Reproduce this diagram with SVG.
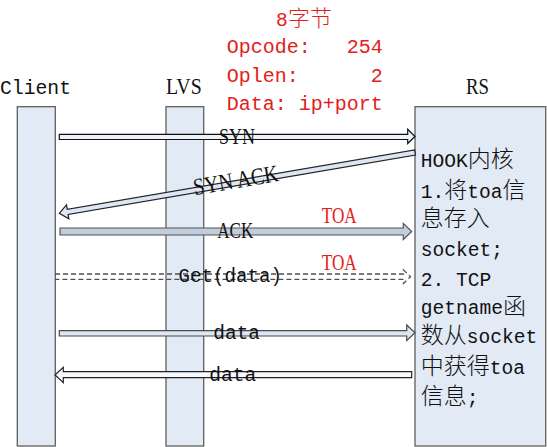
<svg xmlns="http://www.w3.org/2000/svg" width="547" height="447" viewBox="0 0 547 447">
<style>
.bar{fill:#e2eaf6;stroke:#5f5f5f;stroke-width:1.3}
.m{font-family:"Liberation Mono",monospace;font-size:19.6px;fill:#111}
.s{font-family:"Liberation Serif",serif;font-size:24px;fill:#111}
.c{font-family:"Noto Sans CJK SC",sans-serif;font-size:23px;font-weight:300}
.red{fill:#e2201c}
.arr{stroke-width:1.2;stroke-linejoin:miter}
</style>
<rect width="547" height="447" fill="#fff"/>
<g id="client">
<rect class="bar" x="17.3" y="106.7" width="38" height="339.3"/>
<text class="m" x="0" y="94" textLength="71" lengthAdjust="spacingAndGlyphs">Client</text>
</g>
<g id="lvs">
<rect class="bar" x="166" y="106.7" width="37.7" height="339.3"/>
<text class="s" x="166" y="94" textLength="35.7" lengthAdjust="spacingAndGlyphs">LVS</text>
</g>
<g id="rs">
<rect class="bar" x="415" y="106.7" width="130.7" height="339.3"/>
<text class="s" x="466" y="94" textLength="23" lengthAdjust="spacingAndGlyphs">RS</text>
</g>
<g id="toa-option" class="red">
<text class="m red" x="304" y="26" text-anchor="middle">8<tspan class="c red" style="font-size:22px">字节</tspan></text>
<text class="m red" x="226.7" y="53.3" xml:space="preserve" textLength="156" lengthAdjust="spacingAndGlyphs">Opcode:   254</text>
<text class="m red" x="226.7" y="81.7" xml:space="preserve" textLength="156" lengthAdjust="spacingAndGlyphs">Oplen:      2</text>
<text class="m red" x="226.7" y="110" xml:space="preserve" textLength="156" lengthAdjust="spacingAndGlyphs">Data: ip+port</text>
</g>
<g id="connectors">
<path id="syn" class="arr" fill="#eef2f9" stroke="#111" d="M59.3,134.3 H407.7 V129.3 L415,136.5 L407.7,143.5 V139.5 H59.3 Z"/>
<path id="synack" class="arr" fill="#dce6f4" stroke="#222" transform="translate(59.3,213.3) rotate(-9.7)" d="M0,0 L8.5,-7 V-2.6 H360.9 V2.6 H8.5 V7 Z"/>
<path id="ack" class="arr" fill="#c3ccd9" stroke="#4d5560" stroke-width="1.5" d="M60,228 H403.3 V223.3 L411.7,231.5 L403.3,239.5 V235 H60 Z"/>
<path id="get" fill="none" stroke="#4f4f4f" stroke-width="1.3" stroke-dasharray="5,3" d="M55,274 H403.5 V270 L410.5,276.7 L403.5,283.4 V279.4 H55"/>
<path id="data1" class="arr" fill="#dde6f3" stroke="#4a4a4a" d="M59.3,330.7 H406.7 V325 L415,332.8 L406.7,340.7 V336 H59.3 Z"/>
<path id="data2" class="arr" fill="#f6f8fc" stroke="#222" d="M55,375 L63.3,367.3 V371.7 H411.7 V377.7 H63.3 V382.7 Z"/>
<text class="s" x="219" y="144" textLength="36" lengthAdjust="spacingAndGlyphs">SYN</text>
<text class="s" x="0" y="5" text-anchor="middle" transform="translate(236.3,183.1) rotate(-9.7)" textLength="86" lengthAdjust="spacingAndGlyphs">SYN ACK</text>
<text class="s" x="217.3" y="237.7" textLength="36" lengthAdjust="spacingAndGlyphs">ACK</text>
<text class="s red" x="321.7" y="222.7" textLength="35" lengthAdjust="spacingAndGlyphs">TOA</text>
<text class="s red" x="321.7" y="270" textLength="35" lengthAdjust="spacingAndGlyphs">TOA</text>
<text class="m" x="178.5" y="281.5" textLength="103.5" lengthAdjust="spacingAndGlyphs">Get(data)</text>
<text class="m" x="213.3" y="339.3" textLength="46.7" lengthAdjust="spacingAndGlyphs">data</text>
<text class="m" x="209.3" y="381" textLength="47" lengthAdjust="spacingAndGlyphs">data</text>
</g>
<g id="rs-text" class="m">
<text class="m" x="420.7" y="167">HOOK<tspan class="c">内核</tspan></text>
<text class="m" x="420.7" y="197.5">1.<tspan class="c">将</tspan>toa<tspan class="c">信</tspan></text>
<text class="m" x="420.7" y="225.5"><tspan class="c">息存入</tspan></text>
<text class="m" x="420.7" y="255.5">socket;</text>
<text class="m" x="420.7" y="286" xml:space="preserve">2. TCP</text>
<text class="m" x="420.7" y="313.5">getname<tspan class="c">函</tspan></text>
<text class="m" x="420.7" y="343"><tspan class="c">数从</tspan>socket</text>
<text class="m" x="420.7" y="373.5"><tspan class="c">中获得</tspan>toa</text>
<text class="m" x="420.7" y="403.5"><tspan class="c">信息</tspan>;</text>
</g>
</svg>
